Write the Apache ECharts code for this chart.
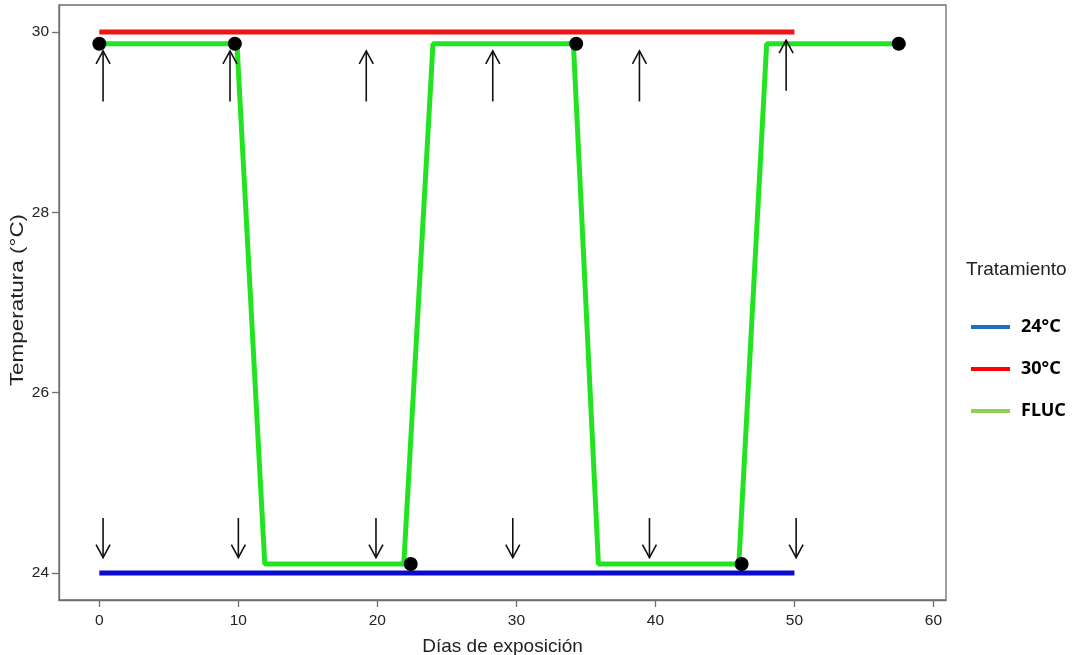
<!DOCTYPE html>
<html>
<head>
<meta charset="utf-8">
<script src="https://cdn.jsdelivr.net/npm/echarts@6/dist/echarts.min.js"></script>
<style>html,body{margin:0;padding:0;background:#fff;}#c{width:1078px;height:655px;}</style>
</head>
<body>
<div id="c"></div>
<script>
// ---- data ----
var xTicks = [0, 10, 20, 30, 40, 50, 60];
var yTicks = [24, 26, 28, 30];
var line24 = [[0, 24], [50, 24]];
var line30 = [[0, 30], [50, 30]];
var lineFluc = [[0, 29.87], [9.9, 29.87], [11.9, 24.1], [21.9, 24.1], [24.0, 29.87], [34.1, 29.87],
                [35.9, 24.1], [46.0, 24.1], [48.0, 29.87], [58.0, 29.87]];
var samplePoints = [[0, 29.87], [9.75, 29.87], [22.4, 24.1], [34.3, 29.87], [46.2, 24.1], [57.5, 29.87]];
// arrows: [x, yStart, yTip]
var upArrows = [[0.27, 29.23, 29.79], [9.4, 29.23, 29.79], [19.2, 29.23, 29.79],
                [28.3, 29.23, 29.79], [38.85, 29.23, 29.79], [49.4, 29.35, 29.91]];
var downArrows = [[0.27, 24.61, 24.17], [10.0, 24.61, 24.17], [19.9, 24.61, 24.17],
                  [29.74, 24.61, 24.17], [39.57, 24.61, 24.17], [50.12, 24.61, 24.17]];
var arrows = upArrows.concat(downArrows);
var seriesNames = ['24°C', '30°C', 'FLUC'];

var chart = echarts.init(document.getElementById('c'), null, {renderer: 'canvas'});
var FONT = '"Liberation Sans", Arial, sans-serif';

function renderArrow(params, api) {
  var p0 = api.coord([api.value(0), api.value(1)]);
  var p1 = api.coord([api.value(0), api.value(2)]);
  var dir = p1[1] > p0[1] ? 1 : -1;
  var hl = 13, hw = 7;
  return {
    type: 'group',
    children: [
      {type: 'line', shape: {x1: p0[0], y1: p0[1], x2: p1[0], y2: p1[1]},
       style: {stroke: '#111', lineWidth: 1.6}},
      {type: 'polyline', shape: {points: [[p1[0] - hw, p1[1] - dir * hl], [p1[0], p1[1]], [p1[0] + hw, p1[1] - dir * hl]]},
       style: {stroke: '#111', lineWidth: 1.6, fill: null}}
    ]
  };
}

var option = {
  animation: false,
  backgroundColor: '#fff',
  grid: {left: 59, right: 132, top: 5, bottom: 55, outerBoundsMode: 'none', containLabel: false,
         show: true, borderColor: '#6e6e6e', borderWidth: 1.3, backgroundColor: '#fff'},
  title: {
    text: 'Tratamiento', left: 961, top: 255,
    textStyle: {fontFamily: FONT, fontSize: 19, fontWeight: 'normal', color: '#222'}
  },
  legend: {
    orient: 'vertical', left: 966, top: 312,
    icon: 'rect', itemWidth: 39, itemHeight: 4, itemGap: 22,
    textStyle: {fontFamily: '"Noto Sans", sans-serif', fontSize: 18, fontWeight: 'bold', color: '#000', lineHeight: 20, padding: [0, 0, 0, 6]},
    data: [
      {name: seriesNames[0], itemStyle: {color: '#1f70c1'}},
      {name: seriesNames[1], itemStyle: {color: '#ff0000'}},
      {name: seriesNames[2], itemStyle: {color: '#8fd14f'}}
    ]
  },
  xAxis: {
    type: 'value', min: -2.9, max: 60.9,
    name: 'Días de exposición', nameLocation: 'middle', nameGap: 37,
    nameTextStyle: {fontFamily: FONT, fontSize: 19, color: '#222'},
    axisLine: {show: true, onZero: false, lineStyle: {color: '#6e6e6e', width: 1.3}},
    axisTick: {show: true, length: 7, customValues: xTicks, lineStyle: {color: '#6e6e6e', width: 1.3}},
    axisLabel: {customValues: xTicks, margin: 13, fontFamily: FONT, fontSize: 15.5, color: '#222'},
    splitLine: {show: false}
  },
  yAxis: {
    type: 'value', min: 23.7, max: 30.3,
    axisLine: {show: true, onZero: false, lineStyle: {color: '#6e6e6e', width: 1.3}},
    axisTick: {show: true, length: 7, customValues: yTicks, lineStyle: {color: '#6e6e6e', width: 1.3}},
    axisLabel: {customValues: yTicks, margin: 10, fontFamily: FONT, fontSize: 15.5, color: '#222'},
    splitLine: {show: false}
  },
  graphic: [{
    type: 'text', x: 18, y: 300, rotation: Math.PI / 2, scaleX: 1.18,
    style: {text: 'Temperatura (°C)', fontFamily: FONT, fontSize: 19, fill: '#222', textAlign: 'center', textVerticalAlign: 'middle'}
  }],
  series: [
    {name: seriesNames[0], type: 'line', data: line24, showSymbol: false, symbol: 'none',
     lineStyle: {color: '#0a0ad0', width: 5}, itemStyle: {color: '#0a0ad0'}, z: 2},
    {name: seriesNames[1], type: 'line', data: line30, showSymbol: false, symbol: 'none',
     lineStyle: {color: '#ec1515', width: 5}, itemStyle: {color: '#ec1515'}, z: 2},
    {name: seriesNames[2], type: 'line', data: lineFluc, showSymbol: false, symbol: 'none',
     lineStyle: {color: '#22e322', width: 5}, itemStyle: {color: '#22e322'}, z: 3},
    {name: 'muestreo', type: 'scatter', data: samplePoints, symbolSize: 14,
     itemStyle: {color: '#000', opacity: 1}, z: 5},
    {name: 'flechas', type: 'custom', data: arrows, renderItem: renderArrow, z: 6, silent: true}
  ]
};
chart.setOption(option);
</script>
</body>
</html>
